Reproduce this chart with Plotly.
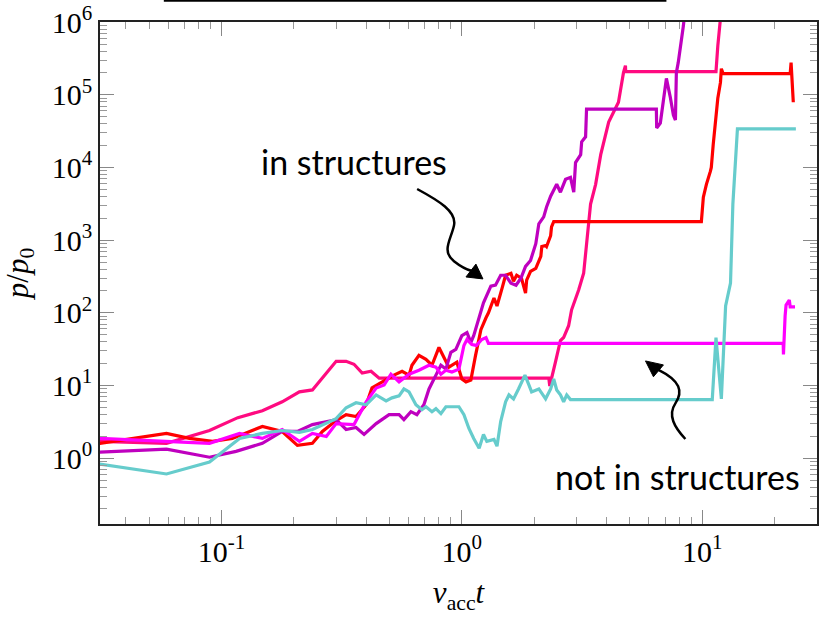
import plotly.graph_objects as go

# ---- data: normalised momentum p/p0 versus nu_acc * t for five particles ----
red_t = [0.0312, 0.0591, 0.0736, 0.0918, 0.111, 0.148, 0.179, 0.207, 0.239, 0.263,
         0.300, 0.330, 0.363, 0.400, 0.423, 0.466, 0.522, 0.564, 0.603, 0.620,
         0.663, 0.709, 0.751, 0.803, 0.842, 0.883, 0.953, 1.00, 1.04, 1.09,
         1.14, 1.20, 1.26, 1.29, 1.36, 1.40, 1.47, 1.52, 1.60, 1.64,
         1.69, 1.77, 1.84, 1.86, 1.93, 2.03, 2.13, 2.15, 2.23, 2.25,
         2.34, 2.36, 2.41, 9.91, 10.1, 10.4, 10.8, 10.9, 11.1, 11.4,
         11.6, 11.9, 12.0, 12.2, 23.2, 23.4, 23.9]
red_p = [1.60, 2.19, 1.87, 1.70, 1.87, 2.73, 2.33, 1.50, 1.60, 2.33,
         3.29, 3.97, 3.73, 5.43, 9.25, 11.2, 13.9, 15.7, 13.9, 19.0,
         26.0, 22.9, 19.0, 33.4, 24.4, 17.9, 20.9, 12.3, 11.2, 11.9,
         26.0, 58.7, 85.5, 100, 160, 124, 219, 329, 350, 272,
         329, 299, 187, 281, 373, 409, 597, 816, 842, 816,
         1151, 1526, 1800, 1800, 3908, 5870, 8830, 1.0e4, 2.06e4, 5.26e4,
         8.96e4, 1.48e5, 2.29e5, 1.96e5, 1.96e5, 2.77e5, 7.9e4]

pink_t = [0.0312, 0.0591, 0.0892, 0.117, 0.148, 0.179, 0.211, 0.239, 0.300, 0.330,
          0.356, 0.385, 0.419, 0.453, 2.30, 2.32, 2.45, 2.57, 2.65, 2.78,
          2.86, 3.06, 3.21, 3.37, 3.43, 3.60, 3.78, 4.08, 4.48, 4.70,
          4.79, 4.80, 11.4, 11.6, 12.1]
pink_p = [1.70, 1.60, 2.40, 3.61, 4.50, 5.97, 8.16, 8.69, 21.5, 21.5,
          19.6, 14.8, 15.7, 12.6, 12.6, 9.85, 20.9, 41.6, 45.7, 66.5,
          110, 206, 350, 1676, 3140, 5870, 1.50e4, 4.22e4, 7.9e4, 2.02e5,
          2.52e5, 2.09e5, 2.09e5, 4.71e5, 2.0e6]

purple_t = [0.0312, 0.0591, 0.0892, 0.115, 0.148, 0.179, 0.207, 0.239, 0.300, 0.330,
            0.363, 0.392, 0.440, 0.498, 0.548, 0.574, 0.614, 0.650, 0.695, 0.730,
            0.780, 0.818, 0.858, 0.900, 0.944, 1.00, 1.05, 1.09, 1.12, 1.18,
            1.23, 1.32, 1.38, 1.45, 1.52, 1.60, 1.68, 1.76, 1.84, 1.93,
            2.03, 2.09, 2.19, 2.25, 2.34, 2.48, 2.57, 2.70, 2.83, 2.92,
            2.97, 3.12, 3.15, 3.27, 3.30, 6.44, 6.46, 6.69, 6.89, 7.09,
            7.36, 7.58, 7.73, 7.80, 7.94, 8.18, 8.34, 8.50]
purple_p = [1.21, 1.33, 1.03, 1.24, 1.60, 2.33, 2.33, 2.90, 3.39, 2.48,
            2.64, 2.12, 2.99, 3.97, 3.97, 3.39, 4.36, 3.97, 5.43, 8.96,
            13.9, 19.0, 16.8, 28.6, 31.4, 48.6, 53.5, 39.1, 48.6, 91.0,
            137, 233, 240, 329, 329, 256, 240, 299, 436, 526,
            896, 1676, 2090, 2856, 4030, 5870, 4570, 6870, 7310, 4570,
            1.17e4, 1.50e4, 2.26e4, 2.64e4, 6.35e4, 6.35e4, 3.50e4, 4.09e4, 7.9e4, 1.68e5,
            9.25e4, 5.26e4, 4.50e4, 2.02e5, 2.77e5, 5.18e5, 8.83e5, 1.6e6]

magenta_t = [0.0312, 0.0591, 0.0892, 0.119, 0.148, 0.179, 0.211, 0.239, 0.273, 0.300,
             0.356, 0.400, 0.440, 0.475, 0.507, 0.548, 0.603, 0.663, 0.730, 0.780,
             0.818, 0.858, 0.909, 0.972, 1.02, 1.05, 1.10, 1.15, 1.21, 1.26,
             1.29, 21.7, 21.75, 22.1, 22.3, 23.0, 23.2, 24.3]
magenta_p = [1.87, 1.70, 1.60, 2.19, 1.87, 2.48, 1.70, 2.19, 1.99, 2.99,
             2.90, 5.97, 9.25, 10.2, 14.3, 11.2, 14.3, 16.2, 19.0, 17.9,
             14.3, 16.2, 15.3, 16.8, 35.6, 42.9, 36.7, 35.6, 42.9, 45.7,
             37.9, 37.9, 26.8, 91.0, 128, 150, 121, 121]

cyan_t = [0.0312, 0.0591, 0.0892, 0.119, 0.148, 0.179, 0.211, 0.239, 0.300, 0.330,
          0.363, 0.400, 0.440, 0.484, 0.512, 0.548, 0.574, 0.603, 0.644, 0.682,
          0.709, 0.751, 0.780, 0.818, 0.858, 0.972, 1.02, 1.07, 1.12, 1.18,
          1.23, 1.27, 1.36, 1.40, 1.45, 1.52, 1.57, 1.64, 1.72, 1.83,
          1.90, 1.95, 2.09, 2.23, 2.34, 2.41, 2.48, 2.57, 2.65, 2.73,
          2.83, 11.0, 11.4, 12.0, 12.5, 13.1, 13.4, 13.7, 14.0, 24.5]
cyan_p = [0.829, 0.606, 0.882, 1.87, 2.19, 2.40, 2.26, 2.48, 3.50, 4.94,
          5.78, 5.43, 7.42, 6.15, 6.76, 7.20, 8.96, 8.16, 5.43, 4.64,
          5.10, 4.36, 4.79, 4.10, 5.10, 5.10, 3.97, 2.56, 1.87, 1.37,
          2.12, 1.70, 1.81, 1.46, 3.19, 5.97, 7.42, 6.55, 8.96, 13.9,
          10.2, 8.16, 8.96, 6.55, 8.96, 12.3, 8.69, 7.42, 5.97, 7.42,
          6.4, 6.4, 45.7, 6.55, 124, 256, 3140, 1.10e4, 3.39e4, 3.39e4]

x_tickvals = [0.1, 1, 10]
x_ticktext = ["10<sup>-1</sup>", "10<sup>0</sup>", "10<sup>1</sup>"]
y_tickvals = [1, 10, 100, 1e3, 1e4, 1e5, 1e6]
y_ticktext = ["10<sup>0</sup>", "10<sup>1</sup>", "10<sup>2</sup>", "10<sup>3</sup>",
              "10<sup>4</sup>", "10<sup>5</sup>", "10<sup>6</sup>"]

series = [
    (pink_t, pink_p, "#FF0A80"),
    (red_t, red_p, "#FF0000"),
    (purple_t, purple_p, "#BF00BF"),
    (magenta_t, magenta_p, "#FF00FF"),
    (cyan_t, cyan_p, "#66CCCC"),
]

W, H = 820, 620
ML, MR, MT, MB = 100, 1, 16, 96


def paper(px, py):
    """Convert figure pixel position to paper fractions of the plot area."""
    return (px - ML) / (W - ML - MR), (H - MB - py) / (H - MT - MB)


def path(points, closed=False):
    cmds = []
    for cmd, pts in points:
        coords = " ".join("%.4f,%.4f" % paper(*p) for p in pts)
        cmds.append(cmd + " " + coords)
    s = " ".join(cmds)
    return s + (" Z" if closed else "")


fig = go.Figure()
for t, p, c in series:
    fig.add_trace(go.Scatter(x=t, y=p, mode="lines",
                             line=dict(color=c, width=3.2), showlegend=False,
                             hoverinfo="skip"))

tickfont = dict(family="Liberation Serif", size=30, color="black")
titlefont = dict(family="Liberation Serif", size=31, color="black")
axis_common = dict(
    type="log", showgrid=False, zeroline=False,
    showline=True, linecolor="#222", linewidth=1.6, mirror="allticks",
    ticks="inside", ticklen=14, tickcolor="#888", tickwidth=1,
    tickmode="array", tickfont=tickfont, ticklabeloverflow="allow",
    minor=dict(ticks="inside", ticklen=7, tickcolor="#999", tickwidth=1,
               dtick="D1", showgrid=False),
)

fig.update_xaxes(**axis_common, range=[-1.505, 1.477],
                 tickvals=x_tickvals, ticktext=x_ticktext,
                 title=dict(text="<i>ν</i><sub>acc</sub><i>t</i>", font=titlefont))
fig.update_yaxes(**axis_common, range=[-0.906, 6.002],
                 tickvals=y_tickvals, ticktext=y_ticktext,
                 title=dict(text="<i>p</i>/<i>p</i><sub>0</sub>", font=titlefont))

shapes = []
# curly arrow towards the particles trapped in structures
shapes.append(dict(type="path", xref="paper", yref="paper",
                   path=path([("M", [(418, 185)]),
                              ("C", [(440, 197), (458, 208), (455, 222)]),
                              ("C", [(452, 236), (442, 248), (455, 258)]),
                              ("C", [(460, 262), (466, 266), (473, 268)])]),
                   line=dict(color="black", width=2.5)))
shapes.append(dict(type="path", xref="paper", yref="paper",
                   path=path([("M", [(484, 276)]), ("L", [(467, 274)]), ("L", [(477, 261)])], True),
                   fillcolor="black", line=dict(color="black", width=1)))
# curly arrow towards the particles outside structures
shapes.append(dict(type="path", xref="paper", yref="paper",
                   path=path([("M", [(687, 438)]),
                              ("C", [(676, 426), (669, 414), (677, 402)]),
                              ("C", [(685, 390), (682, 379), (660, 368)])]),
                   line=dict(color="black", width=2.5)))
shapes.append(dict(type="path", xref="paper", yref="paper",
                   path=path([("M", [(647, 359)]), ("L", [(655, 375)]), ("L", [(665, 363)])], True),
                   fillcolor="black", line=dict(color="black", width=1)))
# rule along the very top edge of the figure
x0, _ = paper(164, 0)
x1, _ = paper(668, 0)
shapes.append(dict(type="rect", xref="paper", yref="paper", x0=x0, x1=x1,
                   y0=paper(0, -4.5)[1], y1=paper(0, -8)[1],
                   fillcolor="black", line=dict(width=0)))

ax, ay = paper(355, 157)
bx, by = paper(679, 476)
annotations = [
    dict(text="in structures", x=ax, y=ay, xref="paper", yref="paper",
         xanchor="center", yanchor="middle",
         showarrow=False, font=dict(family="Lato", size=34, color="black")),
    dict(text="not in structures", x=bx, y=by, xref="paper", yref="paper",
         xanchor="center", yanchor="middle",
         showarrow=False, font=dict(family="Lato", size=34, color="black")),
]

fig.update_layout(
    width=W, height=H,
    margin=dict(l=ML, r=MR, t=MT, b=MB),
    paper_bgcolor="white", plot_bgcolor="white",
    shapes=shapes, annotations=annotations,
)

fig.write_html("out.html")
